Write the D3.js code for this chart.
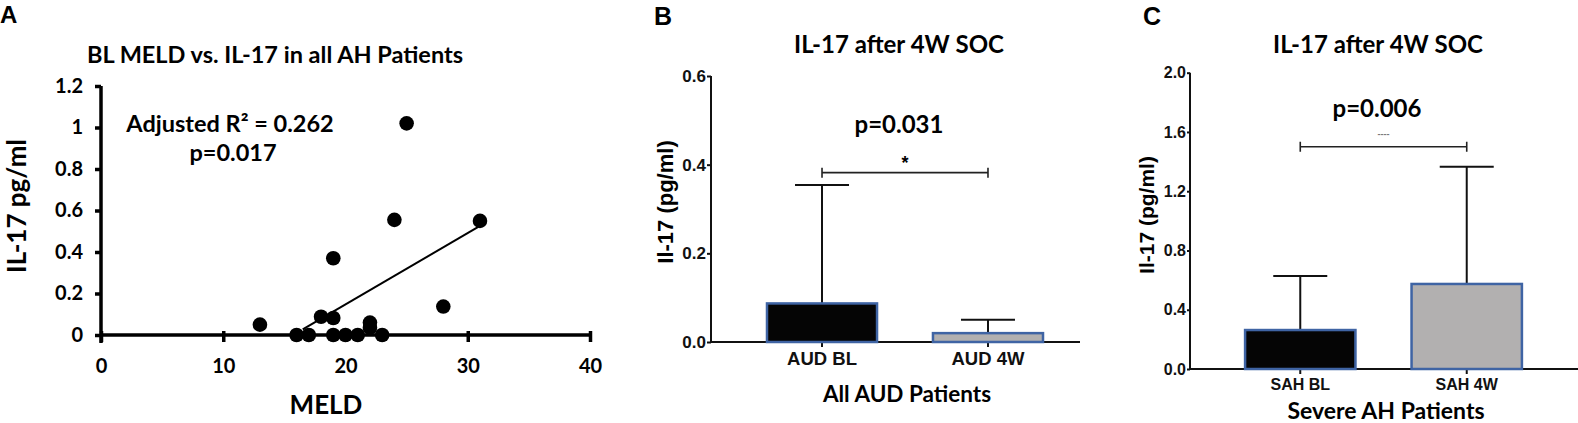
<!DOCTYPE html>
<html><head><meta charset="utf-8">
<script src="https://cdn.jsdelivr.net/npm/d3@7/dist/d3.min.js"></script>
<style>
body{margin:0;background:#fff;}
svg{display:block;}
.cal{font-family:Lato,"Open Sans",sans-serif;font-weight:700;}
.ari{font-family:"Liberation Sans",Arial,sans-serif;font-weight:700;}
</style></head>
<body>
<svg id="c" width="1578" height="423"></svg>
<script>
// ---------- DATA ----------
// Panel A: scatter
const meld = [13, 16, 17, 18, 19, 19, 19, 20, 21, 22, 22, 23, 24, 25, 28, 31];
const il17 = [0.05, 0, 0, 0.088, 0.082, 0.37, 0, 0, 0, 0.06, 0.035, 0, 0.555, 1.02, 0.137, 0.55];
const fitRange = [16.5, 31];
const aXTicks = [0, 10, 20, 30, 40];
const aYTicks = [0, 0.2, 0.4, 0.6, 0.8, 1, 1.2];
// Panel B: bars
const bCats = ["AUD BL", "AUD 4W"];
const bMeans = [0.087, 0.020];
const bUpper = [0.354, 0.050];
const bYTicks = [0, 0.2, 0.4, 0.6];
const bBracket = 0.382;
// Panel C: bars
const cCats = ["SAH BL", "SAH 4W"];
const cMeans = [0.263, 0.574];
const cUpper = [0.628, 1.366];
const cYTicks = [0, 0.4, 0.8, 1.2, 1.6, 2.0];
const cBracket = 1.50;
const barFills = ["#050505", "#b2b0b0"];

const svg = d3.select("#c");

// ---------- PANEL A ----------
(function(){
  const g = svg.append("g");
  const x = d3.scaleLinear().domain([0, 40]).range([101, 590]);
  const y = d3.scaleLinear().domain([0, 1.2]).range([335, 86]);
  g.append("text").attr("class","ari").attr("x",0).attr("y",23).attr("font-size",24).text("A");
  g.append("text").attr("class","cal").attr("x",275).attr("y",63).attr("text-anchor","middle")
    .attr("font-size",23.5).text("BL MELD vs. IL-17 in all AH Patients");
  const yAx = g.append("g").attr("transform","translate(101,0)")
    .call(d3.axisLeft(y).tickValues(aYTicks).tickSize(6).tickPadding(12)
      .tickFormat(d => d===0 ? "0" : String(+d.toFixed(1))));
  const xAx = g.append("g").attr("transform","translate(0,335)")
    .call(d3.axisBottom(x).tickValues(aXTicks).tickSize(7).tickPadding(17));
  [yAx, xAx].forEach(a => {
    a.select(".domain").attr("stroke","#000").attr("stroke-width",3.5);
    a.selectAll(".tick line").attr("stroke","#000").attr("stroke-width",3.5);
    a.selectAll(".tick text").attr("class","cal").attr("font-size",20).attr("fill","#000");
  });
  yAx.select(".domain").attr("d","M0,86V343");
  xAx.select(".domain").attr("d","M101,0H590");
  xAx.selectAll(".tick line").attr("y1",-4);
  // least-squares fit computed from the data
  const n = meld.length, mx = d3.mean(meld), my = d3.mean(il17);
  let sxy=0, sxx=0;
  for (let i=0;i<n;i++){ sxy += (meld[i]-mx)*(il17[i]-my); sxx += (meld[i]-mx)**2; }
  const slope = sxy/sxx, icpt = my - slope*mx;
  g.append("line").attr("x1",x(fitRange[0])).attr("y1",y(icpt+slope*fitRange[0]))
    .attr("x2",x(fitRange[1])).attr("y2",y(icpt+slope*fitRange[1]))
    .attr("stroke","#000").attr("stroke-width",2);
  g.selectAll("circle.pt").data(meld).join("circle").attr("class","pt")
    .attr("cx",(d)=>x(d)).attr("cy",(d,i)=>y(il17[i])).attr("r",7.3).attr("fill","#000");
  g.append("text").attr("class","cal").attr("x",230).attr("y",132).attr("text-anchor","middle")
    .attr("font-size",23.5).text("Adjusted R² = 0.262");
  g.append("text").attr("class","cal").attr("x",233).attr("y",161).attr("text-anchor","middle")
    .attr("font-size",23.5).text("p=0.017");
  g.append("text").attr("class","cal").attr("transform","translate(26,206) rotate(-90)")
    .attr("text-anchor","middle").attr("font-size",26).text("IL-17 pg/ml");
  g.append("text").attr("class","cal").attr("x",326).attr("y",414).attr("text-anchor","middle")
    .attr("font-size",26).text("MELD");
})();

// ---------- BAR PANELS ----------
function barPanel(o){
  const g = svg.append("g");
  const y = d3.scaleLinear().domain(o.domain).range([o.y0, o.y1]);
  const x = d3.scaleBand().domain(o.cats).range(o.bandRange).paddingInner(0.337).paddingOuter(0.1687);
  g.append("text").attr("class","ari").attr("x",o.letterX).attr("y",25).attr("font-size",25).text(o.letter);
  g.append("text").attr("class","cal").attr("x",o.titleX).attr("y",53).attr("text-anchor","middle")
    .attr("font-size",24).text("IL-17 after 4W SOC");
  const yAx = g.append("g").attr("transform",`translate(${o.x0},0)`)
    .call(d3.axisLeft(y).tickValues(o.ticks).tickSize(o.yTickSize).tickPadding(1).tickFormat(d3.format(".1f")));
  yAx.select(".domain").attr("d",`M0,${o.y1}V${o.y0}`);
  const xAx = g.append("g").attr("transform",`translate(0,${o.y0})`)
    .call(d3.axisBottom(x).tickSize(5).tickPadding(5).tickSizeOuter(0));
  xAx.select(".domain").attr("d",`M${o.x0},0H${o.x1}`);
  [yAx, xAx].forEach(a => {
    a.select(".domain").attr("stroke","#111").attr("stroke-width",2);
    a.selectAll(".tick line").attr("stroke","#111").attr("stroke-width",2);
    a.selectAll(".tick text").attr("class","ari").attr("fill","#111");
  });
  yAx.selectAll(".tick text").attr("font-size",o.yTickFs);
  xAx.selectAll(".tick text").attr("font-size",o.xTickFs);
  const bw = x.bandwidth();
  o.cats.forEach((c,i)=>{
    const cx = x(c)+bw/2;
    g.append("line").attr("x1",cx).attr("x2",cx).attr("y1",y(o.means[i])).attr("y2",y(o.upper[i]))
      .attr("stroke","#111").attr("stroke-width",2);
    g.append("line").attr("x1",cx-27).attr("x2",cx+27).attr("y1",y(o.upper[i])).attr("y2",y(o.upper[i]))
      .attr("stroke","#111").attr("stroke-width",2);
  });
  g.selectAll("rect.bar").data(o.cats).join("rect").attr("class","bar")
    .attr("x",d=>x(d)).attr("width",bw)
    .attr("y",(d,i)=>y(o.means[i])).attr("height",(d,i)=>o.y0-y(o.means[i]))
    .attr("fill",(d,i)=>barFills[i]).attr("stroke","#3f64a4").attr("stroke-width",2.5);
  const c0 = x(o.cats[0])+bw/2, c1 = x(o.cats[1])+bw/2, by = y(o.bracket);
  g.append("path").attr("d",`M${c0},${by-5}V${by+5}M${c0},${by}H${c1}M${c1},${by-5}V${by+5}`)
    .attr("fill","none").attr("stroke","#222").attr("stroke-width",1.6);
  o.star(g, (c0+c1)/2, by);
  g.append("text").attr("class","cal").attr("x",o.pX).attr("y",o.pY).attr("text-anchor","middle")
    .attr("font-size",24).text(o.pText);
  g.append("text").attr("class","ari").attr("transform",`translate(${o.ylabX},${o.ylabY}) rotate(-90)`)
    .attr("text-anchor","middle").attr("font-size",o.ylabFs).text("Il-17 (pg/ml)");
  g.append("text").attr("class","cal").attr("x",o.xtX).attr("y",o.xtY).attr("text-anchor","middle")
    .attr("font-size",o.xtFs).text(o.xTitle);
}

barPanel({
  letter:"B", letterX:654, titleX:899,
  domain:[0,0.6], y0:342, y1:76, x0:711, x1:1080, bandRange:[739,1071],
  cats:bCats, means:bMeans, upper:bUpper,
  ticks:bYTicks, bracket:bBracket, yTickFs:17, xTickFs:18.5, yTickSize:4,
  star:(g,cx,by)=>g.append("text").attr("class","ari").attr("x",cx).attr("y",by-4).attr("text-anchor","middle").attr("font-size",18).text("*"),
  pText:"p=0.031", pX:899, pY:133,
  ylabX:673, ylabY:202, ylabFs:22,
  xTitle:"All AUD Patients", xtX:907, xtY:402, xtFs:22.5
});
barPanel({
  letter:"C", letterX:1143, titleX:1378,
  domain:[0,2.0], y0:369, y1:72.7, x0:1190, x1:1578, bandRange:[1217,1550],
  cats:cCats, means:cMeans, upper:cUpper,
  ticks:cYTicks, bracket:cBracket, yTickFs:16, xTickFs:16, yTickSize:3,
  star:(g,cx,by)=>g.append("text").attr("class","ari").attr("x",cx).attr("y",by-10).attr("text-anchor","middle").attr("font-size",9).attr("font-weight",400).attr("fill","#777").text("----"),
  pText:"p=0.006", pX:1377, pY:117,
  ylabX:1154, ylabY:215, ylabFs:21,
  xTitle:"Severe AH Patients", xtX:1386, xtY:419, xtFs:23
});
</script>
</body></html>
